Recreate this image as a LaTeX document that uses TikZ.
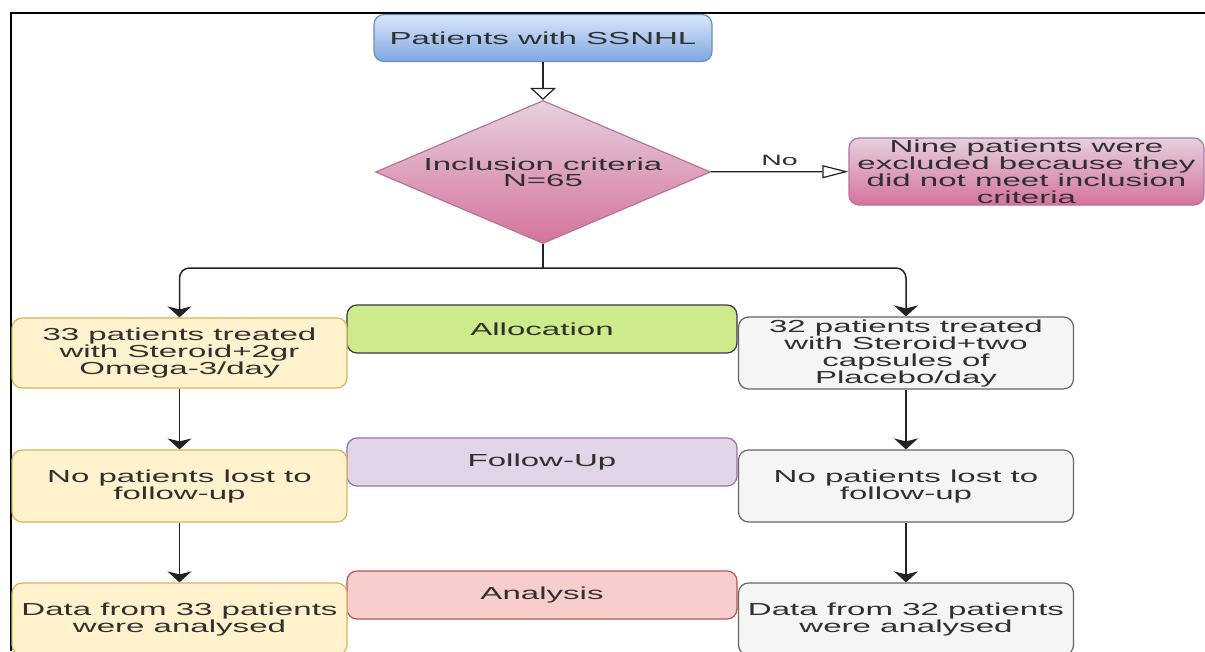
\documentclass[tikz,border=0pt]{standalone}
\usepackage{fontspec}
\newfontfamily\flowfont{Liberation Sans}[FakeStretch=1.9]
\usetikzlibrary{shapes.geometric}
\usetikzlibrary{arrows.meta}

\definecolor{txtgray}{HTML}{303030}
\definecolor{linegray}{HTML}{222222}
\definecolor{bluetop}{HTML}{DAE8FC}
\definecolor{bluebot}{HTML}{7EA6E0}
\definecolor{blueline}{HTML}{6C8EBF}
\definecolor{pinktop}{HTML}{E6D0DE}
\definecolor{pinkbot}{HTML}{D5739D}
\definecolor{pinkline}{HTML}{B5739D}
\definecolor{yellowfill}{HTML}{FFF2CC}
\definecolor{yellowline}{HTML}{D6B656}
\definecolor{grayfill}{HTML}{F5F5F5}
\definecolor{grayline}{HTML}{666666}
\definecolor{allocfill}{HTML}{CDEB8B}
\definecolor{allocline}{HTML}{36393D}
\definecolor{follfill}{HTML}{E1D5E7}
\definecolor{follline}{HTML}{9673A6}
\definecolor{anafill}{HTML}{F8CECC}
\definecolor{analine}{HTML}{B85450}

\begin{document}
\begin{tikzpicture}[x=1pt, y=-1pt,
    every node/.style={font=\flowfont\fontsize{17.4}{17}\selectfont, text=txtgray, align=center, inner sep=0pt},
    box/.style={draw, rounded corners=10pt, line width=1.2pt, minimum width=335pt, minimum height=72pt},
    leftbox/.style={box, fill=yellowfill, draw=yellowline},
    rightbox/.style={box, fill=grayfill, draw=grayline},
    stage/.style={draw, rounded corners=10pt, line width=1.2pt, minimum width=390pt, minimum height=48pt},
    link/.style={line width=1.5pt, draw=linegray, -{Stealth[width=24pt, length=11pt, inset=3pt]}},
    openlink/.style={line width=1.2pt, draw=linegray}]

  \clip (0,0) rectangle (1205,651);
  \fill[white] (0,0) rectangle (1205,651);

  %frame
  \draw[line width=2pt] (10.5,651) -- (10.5,13) -- (1205,13);

  %top part
  \node[box, minimum width=338pt, minimum height=47pt, top color=bluetop, bottom color=bluebot, draw=blueline]
      (start) at (543,38) {Patients with SSNHL};

  \node[diamond, shape aspect=2.34, minimum width=335pt, minimum height=143pt, line width=1.2pt,
        top color=pinktop, bottom color=pinkbot, draw=pinkline]
      (incl) at (543,172) {Inclusion criteria\\[-1pt]N=65};

  \node[box, minimum width=355pt, minimum height=67pt, top color=pinktop, bottom color=pinkbot, draw=pinkline]
      (excl) at (1026.5,171.5) {Nine patients were\\excluded because they\\did not meet inclusion\\criteria};

  \draw[openlink, -{Triangle[open, width=26pt, length=12pt]}] (start) -- (incl);
  \draw[openlink, -{Triangle[open, width=13pt, length=26pt]}] (incl) -- node[above=6pt, font=\flowfont\fontsize{15}{15}\selectfont] (no) {No} (excl);

  %stage labels
  \foreach \y/\lbl/\col/\name in {329/Allocation/alloc/alloc, 462/Follow-Up/foll/foll, 595/Analysis/ana/ana}{
      \node[stage, fill=\col fill, draw=\col line] (\name) at (542,\y) {\lbl};
  }

  %left arm
  \node[leftbox, minimum height=70pt] (lb1) at (179.5,353) {33 patients treated\\with Steroid+2gr\\Omega-3/day};
  \node[leftbox] (lb2) at (179.5,486) {No patients lost to\\follow-up};
  \node[leftbox] (lb3) at (179.5,619) {Data from 33 patients\\were analysed};

  %right arm
  \node[rightbox] (rb1) at (906,353) {32 patients treated\\with Steroid+two\\capsules of\\Placebo/day};
  \node[rightbox] (rb2) at (906,486) {No patients lost to\\follow-up};
  \node[rightbox] (rb3) at (906,619) {Data from 32 patients\\were analysed};

  %branches
  \coordinate (split) at (543,268);
  \draw[line width=1.5pt, draw=linegray] (incl.south) -- (split);
  \draw[link, rounded corners=10pt] (split) -| (lb1.north);
  \draw[link, rounded corners=10pt] (split) -| (rb1.north);

  \foreach \a/\b in {lb1/lb2, lb2/lb3, rb1/rb2, rb2/rb3}{
      \draw[link] (\a) -- (\b);
  }

\end{tikzpicture}
\end{document}
